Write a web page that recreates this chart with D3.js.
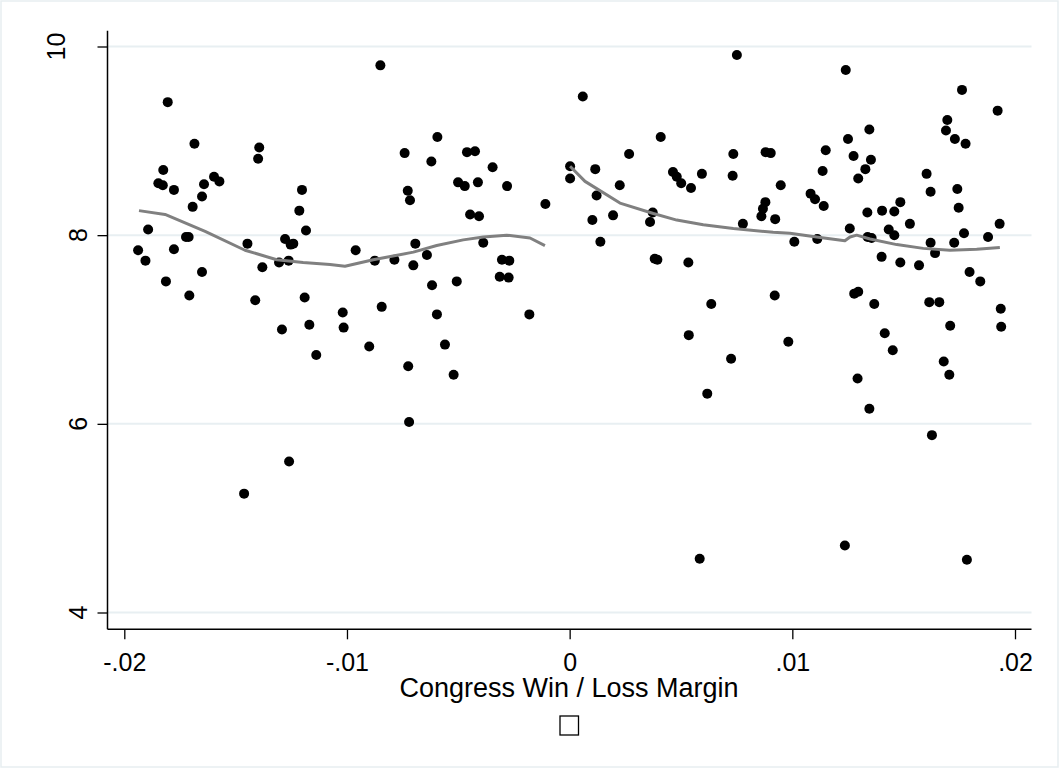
<!DOCTYPE html>
<html>
<head>
<meta charset="utf-8">
<script src="https://cdn.jsdelivr.net/npm/d3@7"></script>
<style>
  html, body { margin: 0; padding: 0; background: #fff; }
  svg text { font-family: "Liberation Sans", Arial, Helvetica, sans-serif; fill: #000; }
</style>
</head>
<body>
<div id="chart"></div>
<script>
// margin of victory (x) and outcome (y)
const margin = [
  -0.01805, -0.01685, -0.01394, -0.01399, -0.01825, -0.01847, -0.01827, -0.01777, -0.01597, -0.01573,
  -0.01642, -0.01651, -0.01202, -0.01693, -0.01214, -0.01893, -0.01184, -0.01723, -0.01711, -0.01447,
  -0.01278, -0.01253, -0.01241, -0.01938, -0.01777, -0.01905, -0.01305, -0.01262, -0.0138, -0.01651,
  -0.01813, -0.01708, -0.01412, -0.0119, -0.01292, -0.01169, -0.01138, -0.0126, -0.01462,
  -0.0085, -0.00594, -0.00741, -0.00621, -0.00461, -0.00425, -0.00346, -0.00501, -0.00471, -0.00412,
  -0.00281, -0.00727, -0.00717, -0.00109, -0.00447, -0.00407, -0.00961, -0.00693, -0.00388, -0.00875,
  -0.00787, -0.00702, -0.00641, -0.00304, -0.00271, -0.00314, -0.00274, -0.00618, -0.00507, -0.00844,
  -0.00596, -0.00181, -0.01019, -0.01015, -0.009, -0.0056, -0.00725, -0.00521, -0.00721,
  0.00751, 0.00059, 0.00409, 0.00267, 0.00735, 0.0088, 0.00903, 0.00002, 0.00002, 0.00115,
  0.00464, 0.00481, 0.00501, 0.00545, 0.00594, 0.00732, 0.00225, 0.00948, 0.00121, 0.00879,
  0.00868, 0.00861, 0.00923, 0.00102, 0.00195, 0.00373, 0.00361, 0.00778, 0.00138, 0.01009,
  0.00382, 0.00394, 0.00533, 0.00921, 0.00636, 0.00535, 0.00982, 0.00725, 0.00618, 0.00584,
  0.0124, 0.01762, 0.01922, 0.01696, 0.0169, 0.01346, 0.0125, 0.0173, 0.01778, 0.0115,
  0.01275, 0.01353, 0.01328, 0.01136, 0.01296, 0.01603, 0.01621, 0.01741, 0.01082, 0.01102,
  0.01141, 0.01747, 0.01485, 0.01337, 0.01403, 0.01458, 0.01528, 0.01931, 0.01258, 0.01433,
  0.01458, 0.01771, 0.01879, 0.01112, 0.01338, 0.01356, 0.01621, 0.01727, 0.01641, 0.01401,
  0.01485, 0.01569, 0.01796, 0.01844, 0.01278, 0.01296, 0.01368, 0.01615, 0.0166, 0.01936,
  0.01709, 0.01938, 0.01415, 0.01451, 0.0168, 0.01705, 0.01293, 0.01346, 0.01627, 0.01236,
  0.01784
];
const outcome = [
  9.41, 8.97, 8.93, 8.81, 8.69, 8.55, 8.53, 8.48, 8.62, 8.57,
  8.54, 8.41, 8.48, 8.30, 8.26, 8.06, 8.05, 7.98, 7.98, 7.91,
  7.96, 7.90, 7.91, 7.84, 7.85, 7.73, 7.71, 7.73, 7.66, 7.61,
  7.51, 7.36, 7.31, 7.34, 7.00, 7.05, 6.73, 5.60, 5.26,
  9.80, 9.04, 8.87, 8.78, 8.88, 8.89, 8.72, 8.56, 8.52, 8.56,
  8.52, 8.47, 8.37, 8.33, 8.22, 8.20, 7.84, 7.91, 7.92, 7.73,
  7.74, 7.68, 7.79, 7.74, 7.73, 7.56, 7.55, 7.47, 7.51, 7.24,
  7.16, 7.16, 7.18, 7.02, 6.82, 6.84, 6.61, 6.52, 6.02,
  9.91, 9.47, 9.04, 8.86, 8.86, 8.88, 8.87, 8.73, 8.60, 8.70,
  8.67, 8.62, 8.55, 8.50, 8.65, 8.63, 8.53, 8.53, 8.42, 8.35,
  8.28, 8.20, 8.17, 8.16, 8.21, 8.24, 8.14, 8.12, 7.93, 7.93,
  7.75, 7.74, 7.71, 7.36, 7.27, 6.94, 6.87, 6.69, 6.32, 4.57,
  9.75, 9.54, 9.32, 9.22, 9.11, 9.12, 9.02, 9.02, 8.97, 8.90,
  8.84, 8.80, 8.70, 8.68, 8.60, 8.65, 8.46, 8.49, 8.44, 8.38,
  8.31, 8.29, 8.35, 8.24, 8.26, 8.25, 8.12, 8.12, 8.07, 8.06,
  8.00, 8.02, 7.98, 7.96, 7.98, 7.97, 7.92, 7.92, 7.81, 7.77,
  7.71, 7.68, 7.61, 7.51, 7.38, 7.40, 7.27, 7.29, 7.29, 7.22,
  7.04, 7.03, 6.96, 6.78, 6.66, 6.52, 6.48, 6.16, 5.88, 4.71,
  4.56
];

// lowess fits, one each side of the cutoff
const lowessLeftX = [-0.01934, -0.01817, -0.01637, -0.01458, -0.01315, -0.01197, -0.01076, -0.01009,
  -0.00882, -0.00702, -0.00597, -0.00478, -0.00388, -0.00283, -0.00178, -0.00111];
const lowessLeftY = [8.26, 8.22, 8.04, 7.84, 7.74, 7.71, 7.69, 7.67,
  7.74, 7.82, 7.89, 7.95, 7.98, 8.00, 7.97, 7.89];
const lowessRightX = [0.00002, 0.00069, 0.00226, 0.00376, 0.00481, 0.006, 0.00735, 0.00914, 0.00989,
  0.01109, 0.01236, 0.01259, 0.01289, 0.01349, 0.01469, 0.01588, 0.01708, 0.01828, 0.01932];
const lowessRightY = [8.73, 8.57, 8.34, 8.23, 8.16, 8.11, 8.07, 8.03, 8.02,
  7.98, 7.94, 7.98, 8.00, 7.96, 7.90, 7.86, 7.84, 7.85, 7.87];

const xTicks = [-0.02, -0.01, 0, 0.01, 0.02];
const xTickLabels = ['-.02', '-.01', '0', '.01', '.02'];
const yTicks = [4, 6, 8, 10];
const xTitle = 'Congress Win / Loss Margin';

const W = 1060, H = 769;
// plot region edges (axis lines)
const plotLeft = 107.5, plotRight = 1031.5, plotTop = 30.7, plotBottom = 629.3;

const x = d3.scaleLinear().domain([-0.02, 0.02]).range([124.3, 1015]);
const y = d3.scaleLinear().domain([4, 10]).range([612.5, 46.5]);

const svg = d3.select('#chart').append('svg')
  .attr('width', W)
  .attr('height', H);

svg.append('rect')
  .attr('width', W).attr('height', H)
  .attr('fill', '#fff');

// faint graph-region outline
svg.append('rect')
  .attr('x', 1).attr('y', 1)
  .attr('width', W - 3).attr('height', H - 3)
  .attr('fill', 'none')
  .attr('stroke', '#e7eef1')
  .attr('stroke-width', 1.5);

// grid
svg.append('g')
  .selectAll('line')
  .data(yTicks)
  .enter()
  .append('line')
  .attr('x1', plotLeft).attr('x2', plotRight)
  .attr('y1', d => y(d)).attr('y2', d => y(d))
  .attr('stroke', '#e8eff2')
  .attr('stroke-width', 2);

// x axis
const xAxis = svg.append('g')
  .attr('transform', `translate(0,${plotBottom})`)
  .call(d3.axisBottom(x)
    .tickValues(xTicks)
    .tickFormat((d, i) => xTickLabels[i])
    .tickSize(10)
    .tickPadding(14));
xAxis.select('.domain').remove();
xAxis.selectAll('line').attr('stroke', '#000').attr('stroke-width', 1.3);
xAxis.selectAll('text')
  .attr('font-size', 25)
  .attr('font-family', '"Liberation Sans", Arial, sans-serif')
  .attr('fill', '#000');

// y axis
const yAxis = svg.append('g')
  .attr('transform', `translate(${plotLeft},0)`)
  .call(d3.axisLeft(y)
    .tickValues(yTicks)
    .tickSize(10)
    .tickFormat(''));
yAxis.select('.domain').remove();
yAxis.selectAll('line').attr('stroke', '#000').attr('stroke-width', 1.3);

// rotated y labels; longer labels sit further left
svg.append('g')
  .selectAll('text')
  .data(yTicks)
  .enter()
  .append('text')
  .attr('transform', d => `translate(${87 - (String(d).length - 1) * 22},${y(d)}) rotate(-90)`)
  .attr('text-anchor', 'middle')
  .attr('font-size', 25)
  .text(d => d);

// axis lines
svg.append('line')
  .attr('x1', plotLeft).attr('x2', plotLeft)
  .attr('y1', plotTop).attr('y2', plotBottom)
  .attr('stroke', '#000').attr('stroke-width', 1.5);
svg.append('line')
  .attr('x1', plotLeft).attr('x2', plotRight)
  .attr('y1', plotBottom).attr('y2', plotBottom)
  .attr('stroke', '#000').attr('stroke-width', 1.5);

// scatter
svg.append('g')
  .selectAll('circle')
  .data(d3.range(margin.length))
  .enter()
  .append('circle')
  .attr('cx', i => x(margin[i]))
  .attr('cy', i => y(outcome[i]))
  .attr('r', 5)
  .attr('fill', '#000');

// lowess lines
const line = d3.line()
  .x(d => x(d[0]))
  .y(d => y(d[1]));

[[lowessLeftX, lowessLeftY], [lowessRightX, lowessRightY]].forEach(([lx, ly]) => {
  svg.append('path')
    .datum(lx.map((v, i) => [v, ly[i]]))
    .attr('d', line)
    .attr('fill', 'none')
    .attr('stroke', '#808080')
    .attr('stroke-width', 3)
    .attr('stroke-linejoin', 'round');
});

// axis title
svg.append('text')
  .attr('x', 569)
  .attr('y', 697)
  .attr('text-anchor', 'middle')
  .attr('font-size', 27)
  .text(xTitle);

// empty legend key
svg.append('rect')
  .attr('x', 560).attr('y', 716)
  .attr('width', 18.5).attr('height', 19)
  .attr('fill', 'none')
  .attr('stroke', '#000')
  .attr('stroke-width', 1.3);
</script>
</body>
</html>
